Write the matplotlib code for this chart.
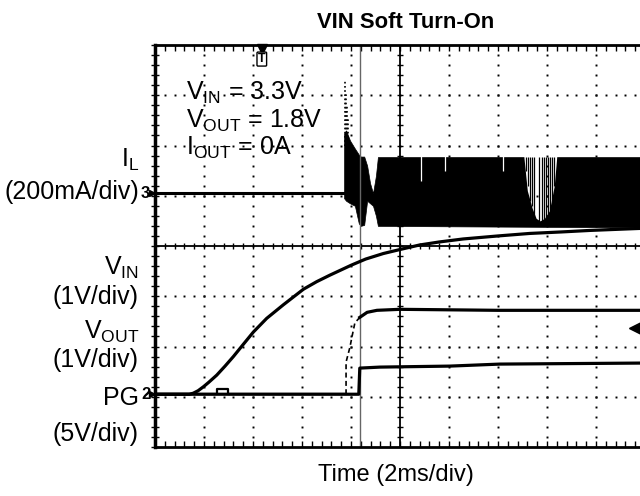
import numpy as np
import matplotlib
matplotlib.use("Agg")
import matplotlib.pyplot as plt
from matplotlib.ticker import MultipleLocator

plt.rcParams['font.family'] = ['Liberation Sans', 'DejaVu Sans']
plt.rcParams['mathtext.fontset'] = 'custom'
plt.rcParams['mathtext.rm'] = 'Liberation Sans'
plt.rcParams['mathtext.it'] = 'Liberation Sans'

# ---- data (in scope divisions: x 0..10 (2ms/div), y 0..8) ----
vin_x = [0, 0.70, 0.78, 0.88, 0.99, 1.10, 1.26, 1.43, 1.60, 1.80, 2.01, 2.28, 2.62, 3.03, 3.30, 3.57, 4.01, 4.30, 4.66, 5.0, 5.40, 5.80, 6.29, 7.0, 7.65, 8.3, 8.88, 9.9]
vin_y = [1.05, 1.05, 1.07, 1.12, 1.20, 1.29, 1.43, 1.61, 1.80, 2.04, 2.29, 2.56, 2.83, 3.14, 3.29, 3.42, 3.62, 3.74, 3.85, 3.93, 4.02, 4.08, 4.14, 4.20, 4.25, 4.28, 4.31, 4.35]

vout_x = [0, 1.27, 1.27, 1.49, 1.49, 3.9]
vout_y = [1.05, 1.05, 1.16, 1.16, 1.05, 1.05]
vout_rise_x = [3.9, 3.9, 3.98, 4.02, 4.08, 4.18]
vout_rise_y = [1.05, 1.69, 1.99, 2.19, 2.47, 2.58]
vout_plat_x = [4.18, 4.33, 4.53, 5.0, 7.0, 9.9]
vout_plat_y = [2.58, 2.68, 2.72, 2.74, 2.72, 2.72]

pg_x = [0, 4.16, 4.18, 4.59, 6.02, 7.04, 9.9]
pg_y = [1.05, 1.05, 1.57, 1.59, 1.61, 1.65, 1.67]

il_base_x = [0, 3.86]
il_base_y = [5.05, 5.05]
il_band_x = [3.86, 3.90, 3.98, 4.08, 4.16, 4.20, 4.27, 4.33, 4.39, 4.45, 4.51, 4.55, 4.60, 9.9]
il_band_top = [6.24, 6.30, 6.10, 5.94, 5.82, 5.78, 5.78, 5.60, 5.25, 5.05, 5.40, 5.77, 5.77, 5.77]
il_band_bot = [4.95, 4.90, 4.85, 4.80, 4.45, 4.40, 4.42, 4.90, 4.85, 4.80, 4.60, 4.40, 4.40, 4.37]
il_spike_x = [3.87, 3.89, 3.91, 3.93]
il_spike_top = [7.30, 7.05, 6.80, 6.55]
notch_x = [7.53, 7.60, 7.70, 7.78, 7.86, 7.95, 8.05, 8.15, 8.20]
notch_bot = [5.77, 5.10, 4.75, 4.55, 4.50, 4.55, 4.70, 5.20, 5.77]
notch_lines_x = [7.58, 7.62, 7.66, 7.70, 7.74, 7.84, 7.90, 7.94, 7.98, 8.02, 8.06, 8.10, 8.14]
notch_lines_bot = [5.5, 5.2, 4.9, 4.8, 4.6, 4.5, 4.5, 4.5, 4.55, 4.6, 4.7, 4.9, 5.2]
streak_x = [5.43, 5.92, 7.1]
streak_bot = [5.3, 5.5, 5.5]

cursor_x = 4.18
trigger_x = 2.18
ref_marker_y = 2.37

fig = plt.figure(figsize=(6.4, 4.96), dpi=100)
ax = fig.add_axes([155/640, 1-447/496, 1-155/640, (447-45)/496])
ax.set_xlim(0, 9.9)
ax.set_ylim(0, 8)

# grid dots
for gx in [1, 2, 3, 4, 6, 7, 8, 9]:
    yy = np.arange(0, 8.001, 0.2)
    ax.plot(np.full_like(yy, gx), yy, 's', color='black', ms=1.4, mew=0)
for gy in [1, 2, 3, 5, 6, 7]:
    xx = np.arange(0, 9.9, 0.2)
    ax.plot(xx, np.full_like(xx, gy), 's', color='black', ms=1.4, mew=0)

# center crosshair with ticks
ax.axhline(4, color='black', lw=1.3)
ax.axvline(5, color='black', lw=1.3)
tx = np.arange(0, 9.9, 0.2)
ax.plot(tx, np.full_like(tx, 4), '|', color='black', ms=5, mew=1.0)
ty = np.arange(0, 8.001, 0.2)
ax.plot(np.full_like(ty, 5), ty, '_', color='black', ms=5, mew=1.0)

# cursor line
ax.axvline(cursor_x, color='#666666', lw=1.0)

# IL trace
ax.plot(il_base_x, il_base_y, color='black', lw=2.2)
ax.fill_between(il_band_x, il_band_bot, il_band_top, color='black', lw=0.5, edgecolor='black')
ax.vlines(il_spike_x, 6.0, il_spike_top, colors='black', lw=1.2, linestyles=(0, (1, 1.5)))
ax.fill_between(notch_x, notch_bot, 5.82, color='white', lw=0)
ax.vlines(notch_lines_x, notch_lines_bot, 5.77, colors='black', lw=0.9)
ax.vlines(streak_x, streak_bot, 5.8, colors='white', lw=0.9)

# VIN, VOUT, PG
ax.plot(vin_x, vin_y, color='black', lw=2.3, solid_joinstyle='round')
ax.plot(vout_x, vout_y, color='black', lw=1.6)
ax.plot(vout_rise_x, vout_rise_y, color='black', lw=1.2, linestyle=(0, (3, 2)))
ax.plot(vout_plat_x, vout_plat_y, color='black', lw=2.3)
ax.plot(pg_x, pg_y, color='black', lw=2.3)

# markers
ax.plot(trigger_x, 7.93, marker='v', color='black', ms=7, clip_on=False)
ax.text(trigger_x, 7.72, 'T', ha='center', va='center', fontsize=9, fontweight='bold',
        bbox=dict(boxstyle='round,pad=0.08', fc='white', ec='black', lw=1.0))
ax.plot(9.8, ref_marker_y, marker='<', color='black', ms=8, clip_on=False)
for yv, lab in [(5.05, '3'), (1.05, '2')]:
    ax.text(-0.19, yv, lab, ha='center', va='center', fontsize=12, fontweight='bold', clip_on=False)
    ax.plot(-0.07, yv, marker='>', color='black', ms=5, clip_on=False)

# spines / ticks
for s in ['left', 'top', 'bottom']:
    ax.spines[s].set_linewidth(2.0)
ax.spines['left'].set_linewidth(2.5)
ax.spines['right'].set_visible(False)
ax.xaxis.set_major_locator(MultipleLocator(1))
ax.xaxis.set_minor_locator(MultipleLocator(0.2))
ax.yaxis.set_major_locator(MultipleLocator(1))
ax.yaxis.set_minor_locator(MultipleLocator(0.2))
ax.tick_params(which='both', direction='in', top=True, bottom=True, left=True, right=False,
               labelbottom=False, labelleft=False, length=4, width=1.0)
ax.tick_params(axis='y', which='both', direction='inout', length=6)

# texts
fig.text(406/640, 1-22/496, 'VIN Soft Turn-On', ha='center', va='center', fontsize=15.8, fontweight='bold')
fig.text(396/640, 1-475/496, 'Time (2ms/div)', ha='center', va='center', fontsize=17)

lx = 139/640
fs = 18
fig.text(lx, 1-160/496, r'$\mathrm{I_L}$', ha='right', va='center', fontsize=fs)
fig.text(lx, 1-192/496, '(200mA/div)', ha='right', va='center', fontsize=fs)
fig.text(lx, 1-268/496, r'$\mathrm{V_{IN}}$', ha='right', va='center', fontsize=fs)
fig.text(lx, 1-297/496, '(1V/div)', ha='right', va='center', fontsize=fs)
fig.text(lx, 1-332/496, r'$\mathrm{V_{OUT}}$', ha='right', va='center', fontsize=fs)
fig.text(lx, 1-360/496, '(1V/div)', ha='right', va='center', fontsize=fs)
fig.text(lx, 1-398/496, 'PG', ha='right', va='center', fontsize=fs)
fig.text(lx, 1-434/496, '(5V/div)', ha='right', va='center', fontsize=fs)

ix = 186/640
fs2 = 18
fig.text(ix, 1-93/496, r'$\mathrm{V_{IN}}$ = 3.3V', ha='left', va='center', fontsize=fs2)
fig.text(ix, 1-121/496, r'$\mathrm{V_{OUT}}$ = 1.8V', ha='left', va='center', fontsize=fs2)
fig.text(ix, 1-148/496, r'$\mathrm{I_{OUT}}$ = 0A', ha='left', va='center', fontsize=fs2)

fig.savefig('out.png', dpi=100)
